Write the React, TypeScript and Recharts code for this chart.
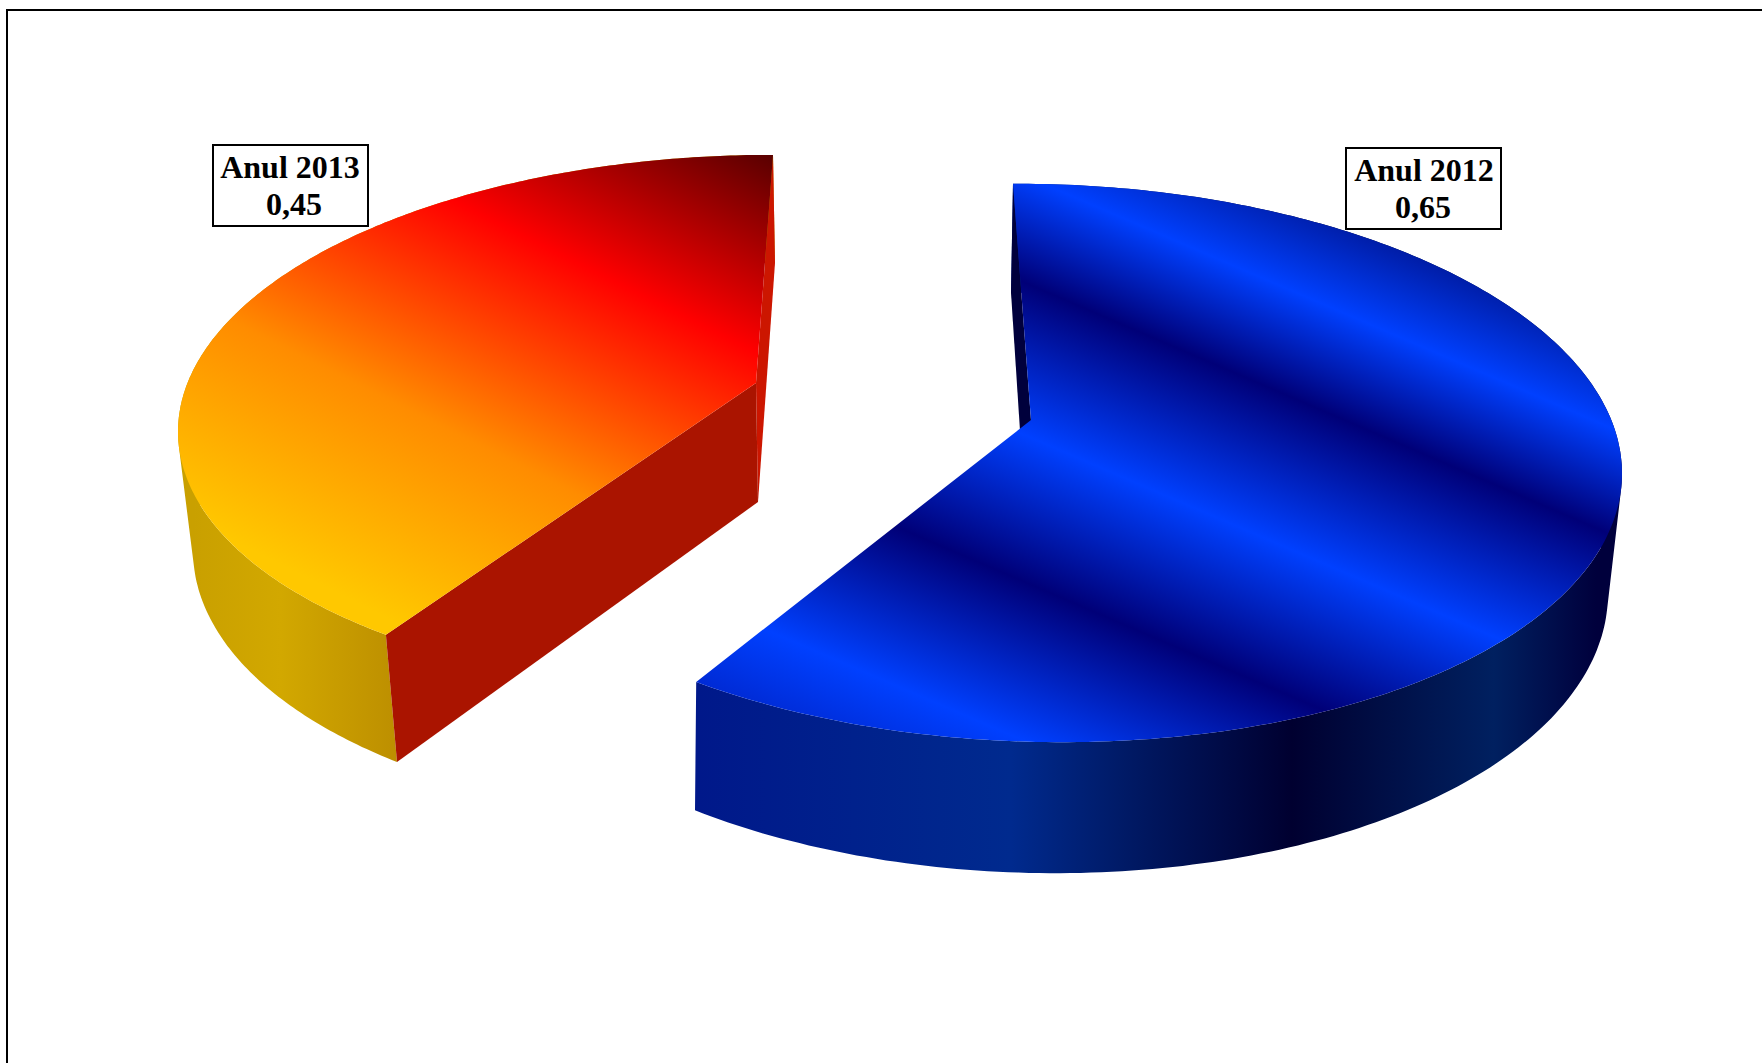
import React from "react";
import { PieChart, Pie } from "recharts";

// ---- data ----
const categories = ["Anul 2012", "Anul 2013"];
const seriesValues = [0.65, 0.45];
const valueLabels = ["0,65", "0,45"];

type P = [number, number];
type Disc = { cx: number; cy: number; rx: number; ry: number; shear: number; apex: P; anchor: P };

// projected discs: rim ellipse, projected centre, and where 12 o'clock lands
const blueTop: Disc = { cx: 1040, cy: 463, rx: 582, ry: 279, shear: 0.018, apex: [1031, 420], anchor: [1013, 184] };
const blueBot: Disc = { cx: 1035, cy: 583, rx: 573, ry: 290, shear: 0.018, apex: [1027, 538], anchor: [1011, 293] };
const redTop: Disc = { cx: 753, cy: 423, rx: 575, ry: 268, shear: -0.015, apex: [756, 383], anchor: [773, 155] };
const redBot: Disc = { cx: 758, cy: 542, rx: 565, ry: 279, shear: -0.015, apex: [758, 502], anchor: [775, 263] };

// a projective map of the unit disc onto the ellipse that sends the centre to the apex
function projector(e: Disc) {
  const norm = (p: P): P => {
    const nx = (p[0] - e.cx) / e.rx;
    return [nx, (p[1] - e.cy - e.shear * (p[0] - e.cx)) / e.ry];
  };
  const [dx, dy] = norm(e.apex);
  const a = Math.hypot(dx, dy);
  const e1: P = [dx / a, dy / a];
  const e2: P = [-e1[1], e1[0]];
  const k = Math.sqrt(1 - a * a);
  let [nx, ny] = norm(e.anchor);
  const nl = Math.hypot(nx, ny);
  nx /= nl;
  ny /= nl;
  const x0 = nx * e1[0] + ny * e1[1];
  const y0 = nx * e2[0] + ny * e2[1];
  const w0 = 1 - a * x0;
  const alpha = Math.atan2((y0 * k) / w0, (x0 - a) / w0);
  const rho = alpha + Math.PI / 2; // disc anchor is (0,-1), angle -90deg
  return (u: number, v: number): P => {
    const x = u * Math.cos(rho) - v * Math.sin(rho);
    const y = u * Math.sin(rho) + v * Math.cos(rho);
    const w = 1 + a * x;
    const bx = (x + a) / w;
    const by = (y * k) / w;
    const sx = (bx * e1[0] + by * e2[0]) * e.rx;
    const sy = (bx * e1[1] + by * e2[1]) * e.ry + e.shear * sx;
    return [e.cx + sx, e.cy + sy];
  };
}

type Stop = [number, string];
type Style = {
  top: (u: number, v: number) => P;
  bot: (u: number, v: number) => P;
  dir: P;
  faceStops: Stop[];
  sideX: Stop[];
  startWall: string | null;
  endWall: string | null;
};
const blueFaceStops: Stop[] = [
  [-330, "#001aa0"], [-243, "#0040ff"], [-145, "#000078"], [-5, "#0040ff"],
  [130, "#000078"], [276, "#0040ff"], [360, "#0028d0"],
];
const redFaceStops: Stop[] = [
  [-380, "#ffc800"], [-184, "#ff8c00"], [23, "#ff0000"], [206, "#5a0000"],
];
const blueSide: Stop[] = [
  [696, "#00188a"], [1011, "#002a8e"], [1124, "#001a66"], [1292, "#000030"],
  [1494, "#002060"], [1596, "#00003c"],
];
const redSide: Stop[] = [[193, "#c9a000"], [280, "#d2a800"], [397, "#bd8f00"]];
const styles: Style[] = [
  {
    top: projector(blueTop), bot: projector(blueBot), dir: [-0.395, 0.919],
    faceStops: blueFaceStops, sideX: blueSide, startWall: "#00003c", endWall: null,
  },
  {
    top: projector(redTop), bot: projector(redBot), dir: [0.447, -0.894],
    faceStops: redFaceStops, sideX: redSide, startWall: "#aa1400", endWall: "#cc1600",
  },
];
const labelBoxes = [
  { x: 1346, y: 148, w: 155, h: 81, cx: 1424, b1: 181, cx2: 1423, b2: 218 },
  { x: 213, y: 145, w: 155, h: 81, cx: 290, b1: 178, cx2: 294, b2: 215 },
];

const path = (pts: P[]) =>
  pts.map((p, i) => `${i ? "L" : "M"}${p[0].toFixed(1)} ${p[1].toFixed(1)}`).join("") + "Z";

// the outer wall as a union of same-wound quads, so its silhouette is the true hull
function ribbon(a: P[], b: P[]) {
  let d = "";
  for (let k = 0; k + 1 < a.length; k++) {
    const q: P[] = [a[k], a[k + 1], b[k + 1], b[k]];
    let area = 0;
    q.forEach((p, j) => {
      const r = q[(j + 1) % 4];
      area += p[0] * r[1] - r[0] * p[1];
    });
    d += path(area < 0 ? q.slice().reverse() : q);
  }
  return d;
}

function Slice3D(props: any) {
  const i: number = props.index ?? categories.indexOf(props.name);
  const s = styles[i];
  const a0 = props.startAngle;
  const a1 = props.endAngle;
  const n = 240;
  const rim: P[] = [];
  for (let k = 0; k <= n; k++) {
    const t = ((a0 + ((a1 - a0) * k) / n) * Math.PI) / 180;
    rim.push([Math.cos(t), -Math.sin(t)]);
  }
  const topRim = rim.map(([u, v]) => s.top(u, v));
  const botRim = rim.map(([u, v]) => s.bot(u, v));
  const aT = s.top(0, 0);
  const aB = s.bot(0, 0);
  const p0 = s.faceStops[0][0];
  const p1 = s.faceStops[s.faceStops.length - 1][0];
  const x0 = s.sideX[0][0];
  const x1 = s.sideX[s.sideX.length - 1][0];
  const idF = `face${i}`;
  const idS = `side${i}`;
  return (
    <g>
      <defs>
        <linearGradient id={idF} gradientUnits="userSpaceOnUse"
          x1={s.dir[0] * p0} y1={s.dir[1] * p0} x2={s.dir[0] * p1} y2={s.dir[1] * p1}>
          {s.faceStops.map(([p, c]) => (
            <stop key={p} offset={(p - p0) / (p1 - p0)} stopColor={c} />
          ))}
        </linearGradient>
        <linearGradient id={idS} gradientUnits="userSpaceOnUse" x1={x0} y1={0} x2={x1} y2={0}>
          {s.sideX.map(([p, c]) => (
            <stop key={p} offset={(p - x0) / (x1 - x0)} stopColor={c} />
          ))}
        </linearGradient>
      </defs>
      <path d={ribbon(topRim, botRim)} fill={`url(#${idS})`} fillRule="nonzero" />
      {s.endWall && <path d={path([topRim[n], aT, aB, botRim[n]])} fill={s.endWall} />}
      {s.startWall && <path d={path([topRim[0], aT, aB, botRim[0]])} fill={s.startWall} />}
      <path d={path([aT, ...topRim])} fill={`url(#${idF})`} />
    </g>
  );
}

function BoxLabel(props: any) {
  const b = labelBoxes[props.index];
  const font = { fontFamily: "'Liberation Serif', serif", fontWeight: 700, fontSize: 32, fill: "#000" };
  return (
    <g>
      <rect x={b.x} y={b.y} width={b.w} height={b.h} fill="#fff" stroke="#000" strokeWidth={2} />
      <text x={b.cx} y={b.b1} textAnchor="middle" {...font}>{categories[props.index]}</text>
      <text x={b.cx2} y={b.b2} textAnchor="middle" {...font}>{valueLabels[props.index]}</text>
    </g>
  );
}

const chartData = categories.map((name, i) => ({ name, value: seriesValues[i] }));

export default function App() {
  return (
    <div style={{ position: "absolute", left: 0, top: 0, width: 1762, height: 1063, overflow: "hidden", background: "#fff" }}>
      <div style={{ position: "absolute", left: 6, top: 9, width: 1800, height: 1100, border: "2px solid #000" }} />
      <div style={{ position: "absolute", left: 0, top: 0 }}>
        <PieChart width={1762} height={1063} margin={{ top: 0, right: 0, bottom: 0, left: 0 }}>
          <Pie
            data={chartData}
            dataKey="value"
            nameKey="name"
            cx={900}
            cy={450}
            outerRadius={400}
            startAngle={90}
            endAngle={-270}
            paddingAngle={0}
            stroke="none"
            isAnimationActive={false}
            shape={Slice3D}
            label={BoxLabel}
            labelLine={false}
          />
        </PieChart>
      </div>
    </div>
  );
}
